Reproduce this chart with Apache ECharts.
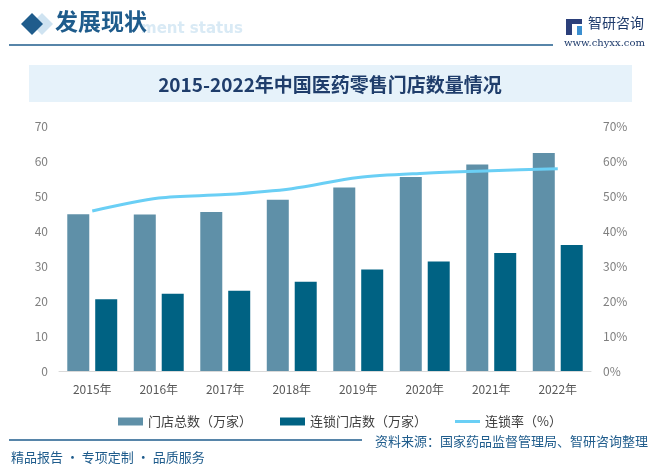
<!DOCTYPE html>
<html><head><meta charset="utf-8">
<script src="https://cdn.jsdelivr.net/npm/echarts@6/dist/echarts.min.js"></script>
<style>html,body{margin:0;padding:0;background:#fff}#c{width:670px;height:476px}</style>
</head><body><div id="c"></div>
<script>
var categories = ['2015年','2016年','2017年','2018年','2019年','2020年','2021年','2022年'];
var totalStores = [44.8, 44.7, 45.4, 48.9, 52.4, 55.4, 59.0, 62.3];
var chainStores = [20.5, 22.1, 22.9, 25.5, 29.0, 31.3, 33.7, 36.0];
var chainRate = [45.7, 49.4, 50.4, 52.1, 55.3, 56.5, 57.2, 57.8];
var leftTicks = [0, 70, 10];
var rightTicks = [0, 70, 10];
var seriesNames = ['门店总数（万家）', '连锁门店数（万家）', '连锁率（%）'];

var chart = echarts.init(document.getElementById('c'));
var font = '"Noto Sans CJK SC", "Noto Sans", sans-serif';
var navy = '#1f5c8c';
chart.setOption({
  animation: false,
  textStyle: {fontFamily: font},
  grid: {left: 59, right: 79, top: 126, bottom: 105},
  legend: {
    left: 113, top: 410, itemGap: 28, itemWidth: 25, itemHeight: 8,
    textStyle: {color: '#404040', fontSize: 13, fontFamily: font},
    data: [
      {name: seriesNames[0], icon: 'rect'},
      {name: seriesNames[1], icon: 'rect'},
      {name: seriesNames[2], icon: 'path://M0,0L25,0L25,3L0,3Z'}
    ]
  },
  xAxis: {
    type: 'category', data: categories,
    axisLine: {lineStyle: {color: '#d9d9d9'}},
    axisTick: {show: false},
    axisLabel: {color: '#595959', fontSize: 12, margin: 12}
  },
  yAxis: [
    {type: 'value', min: leftTicks[0], max: leftTicks[1], interval: leftTicks[2],
     splitLine: {show: false}, axisLine: {show: false}, axisTick: {show: false},
     axisLabel: {color: '#7f7f7f', fontSize: 12, margin: 11}},
    {type: 'value', min: rightTicks[0], max: rightTicks[1], interval: rightTicks[2],
     splitLine: {show: false}, axisLine: {show: false}, axisTick: {show: false},
     axisLabel: {color: '#7f7f7f', fontSize: 12, margin: 12, formatter: '{value}%'}}
  ],
  series: [
    {name: seriesNames[0], type: 'bar', data: totalStores, barWidth: 22, barGap: '27%',
     itemStyle: {color: '#5f90a8'}},
    {name: seriesNames[1], type: 'bar', data: chainStores, barWidth: 22,
     itemStyle: {color: '#006283'}},
    {name: seriesNames[2], type: 'line', yAxisIndex: 1, data: chainRate, smooth: 0.3,
     showSymbol: false, symbol: 'none', lineStyle: {color: '#6acff5', width: 3},
     itemStyle: {color: '#6acff5'}}
  ],
  graphic: [
    {type: 'text', left: 141, top: 22, z: 1, style: {text: 'ment status', fill: '#d9eaf5', font: 'bold 15px "DejaVu Sans", sans-serif'}},
    {type: 'polygon', z: 2, shape: {points: [[42,13],[53,24],[42,35],[31,24]]}, style: {fill: '#cfe3f1'}},
    {type: 'polygon', z: 3, shape: {points: [[32,13],[43,24],[32,35],[21,24]]}, style: {fill: '#1f5c8c'}},
    {type: 'text', left: 55, top: 10, z: 3, style: {text: '发展现状', fill: navy, font: 'bold 23px "Noto Sans CJK SC", sans-serif'}},
    {type: 'line', z: 3, shape: {x1: 9, y1: 45, x2: 553, y2: 45}, style: {stroke: navy, lineWidth: 1.5}},
    {type: 'rect', z: 3, shape: {x: 566, y: 19, width: 6, height: 16}, style: {fill: '#2b3f7a'}},
    {type: 'rect', z: 3, shape: {x: 572, y: 19, width: 10, height: 5}, style: {fill: '#2b3f7a'}},
    {type: 'rect', z: 3, shape: {x: 577, y: 26, width: 5, height: 9}, style: {fill: '#3b8fd0'}},
    {type: 'text', left: 588, top: 16, z: 3, style: {text: '智研咨询', fill: '#1d3a6b', font: '14px "Noto Sans CJK SC", sans-serif'}},
    {type: 'text', left: 564, top: 38, z: 3, style: {text: 'www.chyxx.com', fill: '#1d3a6b', font: '10px "DejaVu Serif", serif'}},
    {type: 'rect', z: 1, shape: {x: 29, y: 65, width: 603, height: 37}, style: {fill: '#e6f2fa'}},
    {type: 'text', x: 330, y: 85, z: 3, style: {text: '2015-2022年中国医药零售门店数量情况', fill: '#1f3d6b', font: 'bold 19px "Noto Sans CJK SC", sans-serif', textAlign: 'center', textVerticalAlign: 'middle'}},
    {type: 'line', z: 3, shape: {x1: 9, y1: 440, x2: 362, y2: 440}, style: {stroke: navy, lineWidth: 1.5}},
    {type: 'text', x: 375, y: 441, z: 3, style: {text: '资料来源：国家药品监督管理局、智研咨询整理', fill: navy, font: '13px "Noto Sans CJK SC", sans-serif', textVerticalAlign: 'middle'}},
    {type: 'text', x: 11, y: 457, z: 3, style: {text: '精品报告 · 专项定制 · 品质服务', fill: navy, font: '13px "Noto Sans CJK SC", sans-serif', textVerticalAlign: 'middle'}}
  ]
});
</script></body></html>
